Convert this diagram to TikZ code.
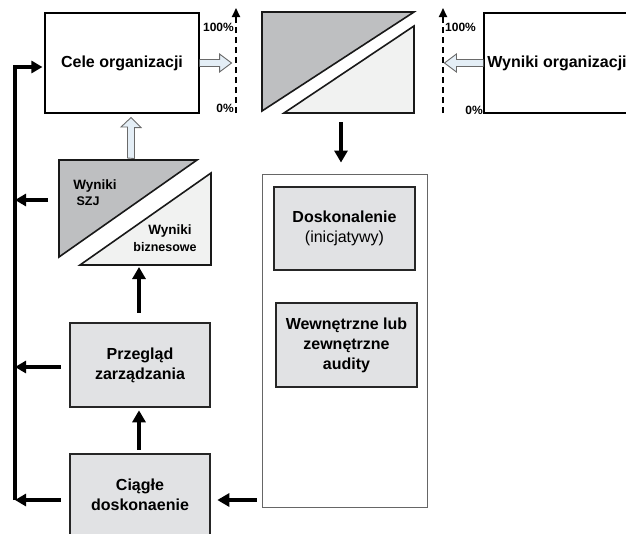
\documentclass[tikz,border=0pt]{standalone}
\usepackage{fontspec}
\setmainfont{Liberation Sans}
\usetikzlibrary{arrows.meta,calc}
\definecolor{boxgray}{HTML}{E1E2E4}
\definecolor{darktri}{HTML}{BEBFC1}
\definecolor{lighttri}{HTML}{F1F2F1}
\definecolor{hollowfill}{HTML}{E4EEF6}
\definecolor{hollowline}{HTML}{6A6A6A}
\begin{document}
\begin{tikzpicture}[x=1pt,y=-1pt,
  whitebox/.style={draw=black,line width=1.1pt,fill=white,inner sep=0pt,font=\fontsize{16}{20}\selectfont\bfseries,align=center},
  graybox/.style={draw=black!85,line width=2.6pt,fill=boxgray,inner sep=0pt,font=\fontsize{16}{20}\selectfont\bfseries,align=center},
  thinbox/.style={draw=black!60,line width=0.9pt,fill=white,inner sep=0pt},
  tri/.style={draw=black!90,line width=1.6pt,line join=miter},
  flow/.style={line width=3.4pt,-{Triangle[length=12pt,width=13pt]}},
  backflow/.style={line width=3.2pt,-{Triangle[length=11pt,width=12pt]}},
  dashscale/.style={line width=1.8pt,dash pattern=on 6pt off 4pt,-{Triangle[length=9pt,width=8pt]}},
  hollow/.style={draw=hollowline,line width=0.9pt,fill=hollowfill,line join=miter},
  pct/.style={font=\fontsize{12}{14}\selectfont\bfseries,inner sep=0pt},
  small/.style={font=\fontsize{13.5}{15}\selectfont\bfseries,inner sep=0pt,align=center}]
\useasboundingbox (0,0) rectangle (626,533);
\clip (0,0) rectangle (626,533);

% top left box
\node[whitebox,minimum width=154pt,minimum height=100pt] (cele) at (122,63) {Cele organizacji};
% top right box (clipped)
\node[whitebox,minimum width=146pt,minimum height=100pt] (wynorg) at (557,63) {Wyniki organizacji};

% top middle triangles
\filldraw[tri,fill=darktri] (262,12) -- (414,12) -- (262,111) -- cycle;
\filldraw[tri,fill=lighttri] (414,26) -- (414,113) -- (284,113) -- cycle;
\coordinate (trib) at (341,113);

% dashed scales
\coordinate (lsb) at (236,113);
\coordinate (lst) at (236,8);
\draw[dashscale] (lsb) -- (lst);
\node[pct,anchor=east] (l100) at (234,27) {100\%};
\node[pct,anchor=east] (l0) at (234,108) {0\%};
\coordinate (rsb) at (443,113);
\coordinate (rst) at (443,8);
\draw[dashscale] (rsb) -- (rst);
\node[pct,anchor=west] (r100) at (445,27) {100\%};
\node[pct,anchor=east] (r0) at (483,110) {0\%};

% hollow arrows
\draw[hollow] ($(cele.east)+(0,-3.5)$) -- ++(20,0) -- ++(0,-5.5) -- ($(cele.east)+(32,0)$) -- ++(-12,9) -- ++(0,-5.5) -- ($(cele.east)+(0,3.5)$);
\draw[hollow] ($(wynorg.west)+(0,-3.5)$) -- ++(-27,0) -- ++(0,-5.5) -- ($(wynorg.west)+(-39,0)$) -- ++(12,9) -- ++(0,-5.5) -- ($(wynorg.west)+(0,3.5)$);

% SZJ / biznesowe box
\coordinate (szjtop) at (131,160);
\coordinate (szjbot) at (139,265);
\coordinate (szjleft) at (59,200);
\filldraw[tri,fill=darktri] (59,160) -- (197,160) -- (59,257) -- cycle;
\filldraw[tri,fill=lighttri] (211,173) -- (211,265) -- (80,265) -- cycle;
\node[small] (w1) at (95,186) {Wyniki};
\node[small,font=\fontsize{12.5}{14}\selectfont\bfseries] (szj) at (88,201) {SZJ};
\node[small] (w2) at (170,231) {Wyniki};
\node[small,font=\fontsize{12.5}{14}\selectfont\bfseries] (biz) at (165,247) {biznesowe};

\draw[hollow] ($(szjtop)+(-3.5,-2)$) -- ++(0,-31) -- ++(-6.5,0) -- ($(cele.south)+(9,4)$) -- ++(10,10) -- ++(-6.5,0) -- ++(0,31) -- cycle;

% gray boxes left column
\node[graybox,minimum width=140pt,minimum height=84pt] (przeglad) at (140,365) {Przegląd\\zarządzania};
\node[graybox,minimum width=140pt,minimum height=82pt] (ciagle) at (140,495) {};
\node[font=\fontsize{16}{20}\selectfont\bfseries,align=center] (ciagletxt) at (140,495) {Ciągłe\\doskonaenie};

% right tall box
\node[thinbox,minimum width=165pt,minimum height=333pt] (big) at (344.5,340.5) {};
\node[graybox,minimum width=141pt,minimum height=83pt] (dosk) at (344.5,228.5) {Doskonalenie\\{\mdseries (inicjatywy)}};
\node[graybox,minimum width=141pt,minimum height=84pt] (wewn) at (346.5,345) {Wewnętrzne lub\\zewnętrzne\\audity};

% flow arrows
\draw[flow] ($(trib)+(0,9)$) -- ($(big.north)+(-3.5,-11)$);
\draw[flow] ($(big.west)+(-5,159.5)$) -- ($(ciagle.east)+(6,5)$);
\draw[flow] ($(ciagle.north)+(-1,-3)$) -- ($(przeglad.south)+(-1,2)$);
\draw[flow] ($(przeglad.north)+(-1,-9)$) -- ($(szjbot)+(0,2)$);

% feedback line
\coordinate (fbb) at (15,500);
\coordinate (fbt) at (15,67);
\draw[backflow] (fbb) -- (fbt) -- ($(cele.west)+(-2,4)$);
\draw[backflow] ($(szjleft)+(-11,0)$) -- (15,200);
\draw[backflow] ($(przeglad.west)+(-8,2)$) -- (15,367);
\draw[backflow] ($(ciagle.west)+(-8,5)$) -- (fbb);
\end{tikzpicture}
\end{document}
